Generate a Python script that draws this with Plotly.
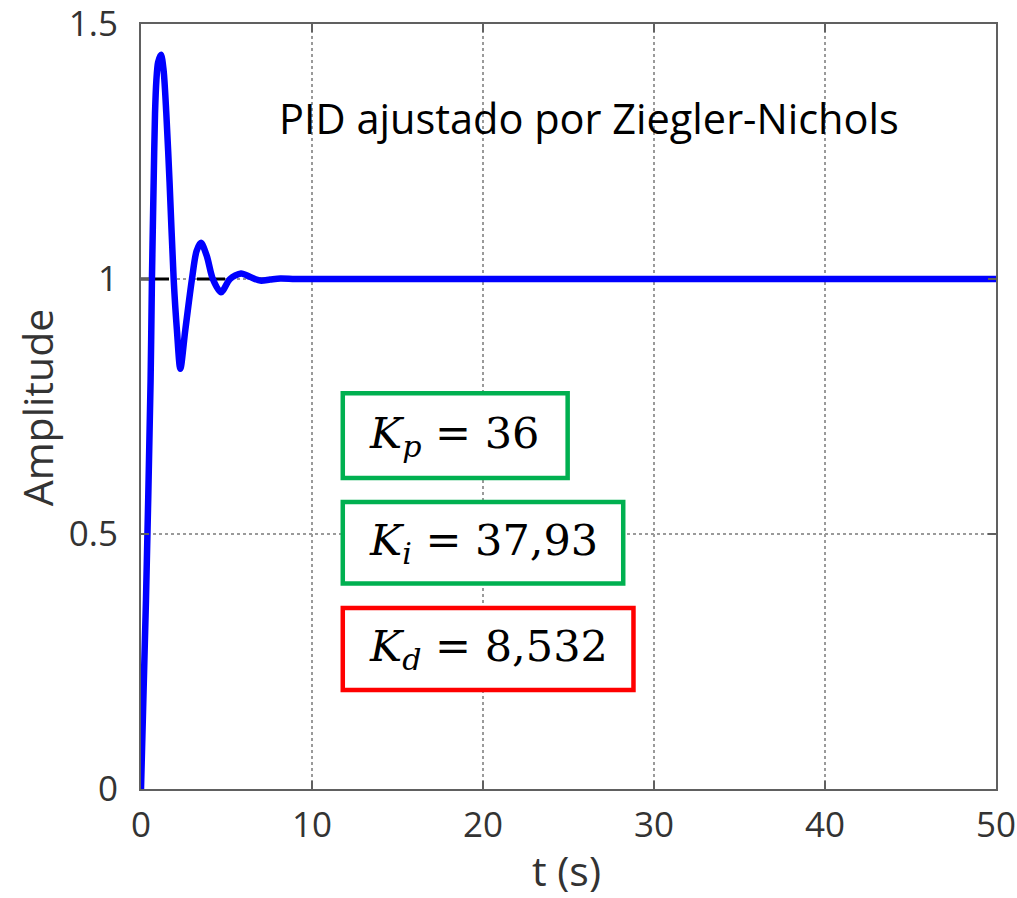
import plotly.graph_objects as go

# Step response
time_s = [0, 0.29, 0.56, 0.64, 0.74, 0.82, 0.9, 1.0, 1.17, 1.32, 1.48, 1.67, 1.91, 2.1, 2.3,
          2.59, 2.98, 3.25, 3.51, 3.85, 4.2, 4.68, 5.2, 5.85, 6.4, 6.98, 7.55, 8.15, 9.0,
          10.0, 20, 30, 40, 50]
amplitude = [0, 0.37, 0.80, 1.0, 1.19, 1.325, 1.39, 1.425, 1.44, 1.41, 1.325, 1.19, 1.0, 0.90,
             0.824, 0.90, 1.0, 1.055, 1.071, 1.045, 1.0, 0.974, 1.0, 1.011, 1.004, 0.997, 0.999,
             1.001, 1.0, 1.0, 1.0, 1.0, 1.0, 1.0]

reference_t = [0, 50]
reference_y = [1, 1]

x_ticks = [0, 10, 20, 30, 40, 50]
y_ticks = [0, 0.5, 1, 1.5]
y_tick_labels = ["0", "0.5", "1", "1.5"]

title_text = "PID ajustado por Ziegler-Nichols"
x_title = "t (s)"
y_title = "Amplitude"
gain_labels = ["<i>K</i><sub><i>p</i></sub> = 36",
               "<i>K</i><sub><i>i</i></sub> = 37,93",
               "<i>K</i><sub><i>d</i></sub> = 8,532"]
gain_colors = ["#00B050", "#00B050", "#FF0000"]

# box extents (data coords) : t0, t1, y0, y1
box_t0 = [11.8, 11.8, 11.8]
box_t1 = [24.95, 28.2, 28.8]
box_y0 = [0.61, 0.403, 0.194]
box_y1 = [0.776, 0.563, 0.355]

fig = go.Figure()
fig.add_trace(go.Scatter(x=reference_t, y=reference_y, mode="lines",
                         line=dict(color="black", width=3, dash="28px,28px"),
                         hoverinfo="skip", showlegend=False))
fig.add_trace(go.Scatter(x=time_s, y=amplitude, mode="lines",
                         line=dict(color="#0000FF", width=6.5, shape="spline", smoothing=0.8),
                         showlegend=False))

for lbl, col, a, b, c, d in zip(gain_labels, gain_colors, box_t0, box_t1, box_y0, box_y1):
    fig.add_shape(type="rect", xref="x", yref="y", x0=a, x1=b, y0=c, y1=d,
                  line=dict(color=col, width=4.5), fillcolor="white", layer="above")
    fig.add_annotation(x=a + 1.4, y=(c + d) / 2, xref="x", yref="y", text=lbl,
                       showarrow=False, xanchor="left",
                       font=dict(family="DejaVu Serif", size=43, color="black"))

fig.add_annotation(x=26.2, y=1.316, xref="x", yref="y", text=title_text, showarrow=False,
                   font=dict(family="Open Sans", size=41.5, color="black"))

axis_title_font = dict(family="Open Sans", size=41, color="#333333")
fig.add_annotation(x=0.498, y=-0.106, xref="paper", yref="paper", text=x_title,
                   showarrow=False, xanchor="center", yanchor="middle", font=axis_title_font)
fig.add_annotation(x=-0.1216, y=0.499, xref="paper", yref="paper", text=y_title,
                   showarrow=False, textangle=-90, xanchor="center", yanchor="middle",
                   font=axis_title_font)

axis_common = dict(showline=True, linecolor="#606060", linewidth=2, mirror="allticks",
                   ticks="inside", ticklen=8, tickcolor="#606060", tickwidth=1.5,
                   showgrid=True, gridcolor="#9a9a9a", griddash="dot", gridwidth=1.5,
                   zeroline=False, ticklabeloverflow="allow", automargin=False,
                   tickfont=dict(family="Open Sans", size=35, color="#333333"))

fig.update_xaxes(range=[0, 50], tickvals=x_ticks, ticklabelstandoff=4, **axis_common)
fig.update_yaxes(range=[0, 1.5002], tickvals=y_ticks, ticktext=y_tick_labels,
                 ticklabelstandoff=14, **axis_common)

fig.update_layout(width=1017, height=898, plot_bgcolor="white", paper_bgcolor="white",
                  margin=dict(l=141, r=21, t=24, b=109))

fig.write_html("out.html", post_script="document.body.style.margin='0';",
               config={"displayModeBar": False})
